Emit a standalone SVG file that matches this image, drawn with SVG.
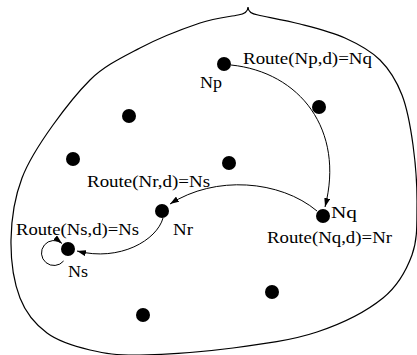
<svg xmlns="http://www.w3.org/2000/svg" width="417" height="355" viewBox="0 0 417 355">
  <style>
    .node { fill: #000; }
    .lbl { font-family: "Liberation Serif", "DejaVu Serif", serif; font-size: 16px; fill: #000; }
    .edge { fill: none; stroke: #000; stroke-width: 1; }
    .region { fill: none; stroke: #000; stroke-width: 1.2; }
  </style>
  <defs>
    <marker id="arrow" markerWidth="9" markerHeight="6" refX="9" refY="3" orient="auto" markerUnits="userSpaceOnUse">
      <path d="M0,0 L9,3 L0,6 z" fill="#000"/>
    </marker>
  </defs>

  <!-- network region boundary -->
  <path class="region" d="M248,7 C248,11 245,14 238,15
    C230,16.8 216.3,17.5 200,23
    C183.7,28.5 158,38.5 140,48
    C122,57.5 104,66 90,80
    C76,94 64.7,108.7 53,125
    C41.3,141.3 29.3,158.8 22,178
    C14.7,197.2 11.3,220 11,240
    C10.7,260 14,282.5 20,298
    C26,313.5 35.3,324.3 47,333
    C58.7,341.7 74.5,346.3 90,350
    C105.5,353.7 116.2,355.3 140,355
    C163.8,354.7 203.5,351.8 233,348
    C262.5,344.2 292,340.3 317,332
    C342,323.7 367.2,310.8 383,298
    C398.8,285.2 406.3,270.5 412,255
    C417.7,239.5 416.8,223.3 417,205
    C417.2,186.7 415.5,163.3 413,145
    C410.5,126.7 407.5,109.2 402,95
    C396.5,80.8 389.5,69.5 380,60
    C370.5,50.5 358.3,44 345,38
    C331.7,32 314.5,27.8 300,24
    C285.5,20.2 266.7,17 258,15
    C252,14 248,11 248,7"/>

  <!-- routing connectors -->
  <g id="connectors">
    <path class="edge" d="M231,65 C300,72 345,130 325,207" marker-end="url(#arrow)"/>
    <path class="edge" d="M317,211 C280,180 215,175 170,204" marker-end="url(#arrow)"/>
    <path class="edge" d="M163,218 C157,240 120,262 77,251" marker-end="url(#arrow)"/>
    <path class="edge" d="M63.6,261 A12.5,12.5 0 1 1 62,243.4" marker-end="url(#arrow)"/>
  </g>

  <g id="node-np">
    <circle class="node" cx="224" cy="64" r="7"/>
    <text class="lbl" x="200" y="88" textLength="22" lengthAdjust="spacingAndGlyphs">Np</text>
    <text class="lbl" x="243" y="64" textLength="129" lengthAdjust="spacingAndGlyphs">Route(Np,d)=Nq</text>
  </g>
  <g id="node-nq">
    <circle class="node" cx="323" cy="216" r="7"/>
    <text class="lbl" x="331" y="218" textLength="26" lengthAdjust="spacingAndGlyphs">Nq</text>
    <text class="lbl" x="267" y="243" textLength="125" lengthAdjust="spacingAndGlyphs">Route(Nq,d)=Nr</text>
  </g>
  <g id="node-nr">
    <circle class="node" cx="162" cy="211" r="7"/>
    <text class="lbl" x="173" y="235" textLength="20" lengthAdjust="spacingAndGlyphs">Nr</text>
    <text class="lbl" x="87" y="187" textLength="123" lengthAdjust="spacingAndGlyphs">Route(Nr,d)=Ns</text>
  </g>
  <g id="node-ns">
    <circle class="node" cx="68" cy="249" r="7"/>
    <text class="lbl" x="68" y="277" textLength="20" lengthAdjust="spacingAndGlyphs">Ns</text>
    <text class="lbl" x="16" y="235" textLength="123" lengthAdjust="spacingAndGlyphs">Route(Ns,d)=Ns</text>
  </g>
  <g id="node-a"><circle class="node" cx="319" cy="107" r="7"/></g>
  <g id="node-b"><circle class="node" cx="129" cy="116" r="7"/></g>
  <g id="node-c"><circle class="node" cx="73" cy="159" r="7"/></g>
  <g id="node-d"><circle class="node" cx="229" cy="163" r="7"/></g>
  <g id="node-e"><circle class="node" cx="272" cy="292" r="7"/></g>
  <g id="node-f"><circle class="node" cx="143" cy="315" r="7"/></g>
</svg>
